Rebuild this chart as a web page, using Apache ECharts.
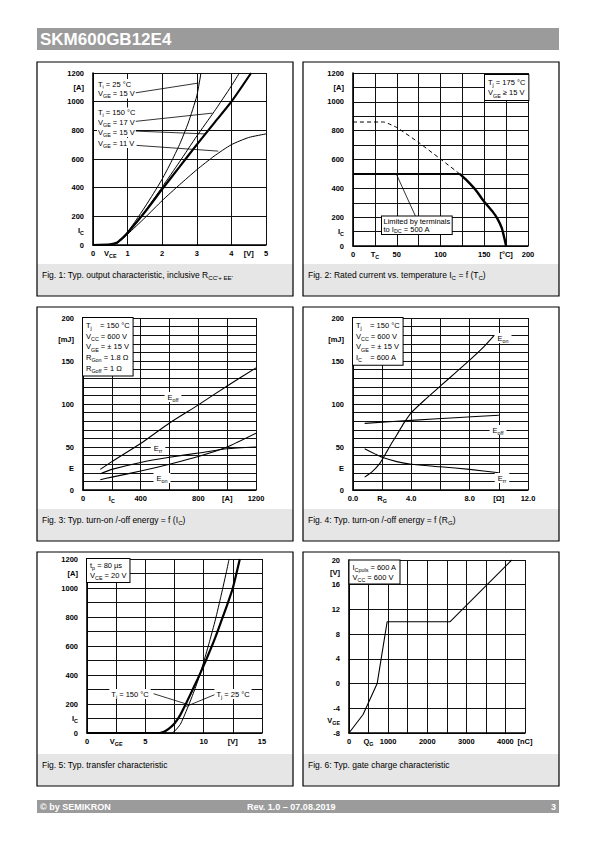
<!DOCTYPE html>
<html><head><meta charset="utf-8">
<script src="https://cdn.jsdelivr.net/npm/echarts@6/dist/echarts.min.js"></script>
<style>html,body{margin:0;padding:0;background:#fff}#c{width:595px;height:842px}</style>
</head><body><div id="c"></div>
<script>
// ---------------- DATA ----------------
// Fig 1: output characteristic, I_C [A] vs V_CE [V]
const fig1Tj25Vge15  = [[0,0],[0.5,2],[0.7,12],[0.85,45],[1,90],[1.25,175],[1.5,265],[1.75,360],[2,460],[2.25,575],[2.5,700],[2.75,850],[3,1040],[3.12,1200]];
const fig1Tj150Vge17 = [[0,0],[0.5,3],[0.7,15],[0.85,45],[1,85],[1.5,235],[2,405],[2.5,580],[3,760],[3.5,930],[4,1110],[4.23,1200]];
const fig1Tj150Vge15 = [[0,0],[0.5,5],[0.7,18],[0.85,48],[1,85],[1.5,230],[2,390],[2.5,545],[3,700],[3.5,850],[4,1000],[4.57,1200]];
const fig1Tj150Vge11 = [[0,0],[0.5,4],[0.7,16],[0.85,42],[1,75],[1.5,190],[2,310],[2.5,420],[3,525],[3.5,620],[4,700],[4.5,750],[5,775]];
const fig1Leaders = [
  [[1.21,1061],[3.05,1130]],
  [[1.21,862],[3.45,920]],
  [[1.21,795],[3.25,775]],
  [[1.26,695],[3.62,655]]
];
const fig1XLabels = [[0,'0'],[0.5,'V_{CE}'],[1,'1'],[2,'2'],[3,'3'],[4,'4'],[4.5,'[V]'],[5,'5']];
const fig1YLabels = [[0,'0'],[100,'I_{C}'],[200,'200'],[400,'400'],[600,'600'],[800,'800'],[1000,'1000'],[1100,'[A]'],[1200,'1200']];

// Fig 2: rated current vs case temperature
const fig2Dashed = [[0,860],[35,860],[40,850],[50,822],[75,718],[100,603],[122,500]];
const fig2Limit  = [[0,500],[122,500]];
const fig2Rated  = [[122,500],[130,455],[140,390],[150,307],[160,235],[165,190],[170,125],[175,0]];
const fig2Leader = [[49.6,498],[71.3,208]];
const fig2XLabels = [[0,'0'],[25,'T_{C}'],[50,'50'],[100,'100'],[150,'150'],[175,'[°C]'],[200,'200']];
const fig2YLabels = [[0,'0'],[100,'I_{C}'],[200,'200'],[400,'400'],[600,'600'],[800,'800'],[1000,'1000'],[1100,'[A]'],[1200,'1200']];

// Fig 3: switching energy vs I_C
const fig3Eoff = [[120,24],[200,33],[400,54],[600,78],[800,99],[1000,121],[1200,142]];
const fig3Err  = [[120,19],[200,24],[400,32],[600,38],[800,43],[1000,48],[1200,50]];
const fig3Eon  = [[120,12],[200,15],[400,22],[600,30],[800,39],[1000,50],[1200,66]];
const fig3XLabels = [[0,'0'],[200,'I_{C}'],[400,'400'],[800,'800'],[1000,'[A]'],[1200,'1200']];
const fig3YLabels = [[0,'0'],[25,'E'],[50,'50'],[100,'100'],[150,'150'],[175,'[mJ]'],[200,'200']];

// Fig 4: switching energy vs R_G
const fig4Eon  = [[0.8,15],[1.3,21],[1.8,30],[2.2,41],[2.6,53],[3,64],[3.5,78],[4,90],[5,106],[6,121],[7,136],[8,151],[9,167],[9.7,180]];
const fig4Eoff = [[0.8,77.5],[4,81],[7,84],[10,87]];
const fig4Err  = [[0.8,48],[1.5,42],[2,38],[3,33],[4,30],[6,27],[8,24],[10,20]];
const fig4XLabels = [[0,'0.0'],[2,'R_{G}'],[4,'4.0'],[8,'8.0'],[10,'[Ω]'],[12,'12.0']];
const fig4YLabels = [[0,'0'],[25,'E'],[50,'50'],[100,'100'],[150,'150'],[175,'[mJ]'],[200,'200']];

// Fig 5: transfer characteristic
const fig5Tj150 = [[0,0],[6.2,0],[6.6,8],[7,28],[7.5,65],[8,125],[8.5,205],[9,290],[9.5,375],[10,465],[10.5,560],[11,660],[11.5,770],[12,880],[12.5,1000],[13.1,1200]];
const fig5Tj25  = [[0,0],[7.2,0],[7.5,12],[8,60],[8.5,150],[9,250],[9.5,360],[10,490],[10.5,630],[11,780],[11.5,950],[12,1130],[12.18,1200]];
const fig5Leaders = [
  [[5.71,271],[8.71,195]],
  [[11.14,271],[8.49,183]]
];
const fig5XLabels = [[0,'0'],[2.5,'V_{GE}'],[5,'5'],[10,'10'],[12.5,'[V]'],[15,'15']];
const fig5YLabels = [[0,'0'],[100,'I_{C}'],[200,'200'],[400,'400'],[600,'600'],[800,'800'],[1000,'1000'],[1100,'[A]'],[1200,'1200']];

// Fig 6: gate charge
const fig6Vge = [[0,-8],[360,-5],[720,0],[975,10],[2580,10],[4160,20]];
const fig6XLabels = [[0,'0'],[500,'Q_{G}'],[1000,'1000'],[2000,'2000'],[3000,'3000'],[4000,'4000'],[4500,'[nC]']];
const fig6YLabels = [[-8,'-8'],[-6,'V_{GE}'],[-4,'-4'],[0,'0'],[4,'4'],[8,'8'],[12,'12'],[16,'16'],[18,'[V]'],[20,'20']];

// ---------------- HELPERS ----------------
const FONT = '"Liberation Sans", Arial, Helvetica, sans-serif';
function rich(str) {
  let out = '', last = 0, m;
  const re = /_\{([^}]*)\}/g;
  while ((m = re.exec(str))) {
    if (m.index > last) out += '{m|' + str.slice(last, m.index) + '}';
    out += '{s|' + m[1] + '}';
    last = re.lastIndex;
  }
  if (last < str.length) out += '{m|' + str.slice(last) + '}';
  return out;
}
function richStyles(fs, lh, weight, color) {
  color = color || '#000';
  return {
    m: {fontSize: fs, fontFamily: FONT, fontWeight: weight || 'normal', color: color, lineHeight: lh},
    s: {fontSize: fs * 0.72, fontFamily: FONT, fontWeight: weight || 'normal', color: color, lineHeight: fs * 0.75, verticalAlign: 'bottom'}
  };
}
function fmt(pairs) {
  return function (v) {
    for (const p of pairs) if (Math.abs(p[0] - v) < 1e-6 * Math.max(1, Math.abs(p[0]))) return rich(p[1]);
    return '';
  };
}

// ---------------- LAYOUT ----------------
const TICK_FS = 7.5;
const charts = [
  {grid:{left:93,top:73,width:173,height:172},
   x:{min:0,max:5,grid:1,lab:0.5,labels:fig1XLabels}, y:{min:0,max:1200,grid:200,lab:100,labels:fig1YLabels},
   lines:[{d:fig1Tj25Vge15,w:1},{d:fig1Tj150Vge17,w:1},{d:fig1Tj150Vge15,w:2.2},{d:fig1Tj150Vge11,w:1}],
   leaders:fig1Leaders},
  {grid:{left:353,top:73,width:175,height:173},
   x:{min:0,max:200,grid:25,lab:25,labels:fig2XLabels}, y:{min:0,max:1200,grid:100,lab:100,labels:fig2YLabels},
   lines:[{d:fig2Dashed,w:1,dash:[4,3]},{d:fig2Limit,w:1.6,nosmooth:true},{d:fig2Rated,w:2.4}],
   leaders:[fig2Leader]},
  {grid:{left:83,top:318,width:173,height:172},
   x:{min:0,max:1200,grid:200,lab:200,labels:fig3XLabels}, y:{min:0,max:200,grid:10,lab:25,labels:fig3YLabels},
   lines:[{d:fig3Eoff,w:1.1},{d:fig3Err,w:1.1},{d:fig3Eon,w:1.1}], leaders:[]},
  {grid:{left:353,top:318,width:175,height:172},
   x:{min:0,max:12,grid:2,lab:2,labels:fig4XLabels}, y:{min:0,max:200,grid:10,lab:25,labels:fig4YLabels},
   lines:[{d:fig4Eon,w:1.1},{d:fig4Eoff,w:1.1},{d:fig4Err,w:1.1}], leaders:[]},
  {grid:{left:87,top:559,width:175,height:174},
   x:{min:0,max:15,grid:2.5,lab:2.5,labels:fig5XLabels}, y:{min:0,max:1200,grid:100,lab:100,labels:fig5YLabels},
   lines:[{d:fig5Tj150,w:2.2},{d:fig5Tj25,w:1}], leaders:fig5Leaders},
  {grid:{left:349,top:560,width:176,height:173},
   x:{min:0,max:4500,grid:500,lab:500,labels:fig6XLabels}, y:{min:-8,max:20,grid:4,lab:2,labels:fig6YLabels},
   lines:[{d:fig6Vge,w:1.1,nosmooth:true}], leaders:[]}
];

const grids = [], xAxes = [], yAxes = [], series = [];
charts.forEach((c, i) => {
  grids.push(Object.assign({outerBoundsMode:'none', containLabel:false}, c.grid));
  const common = {type:'value', gridIndex:i, axisTick:{show:false}};
  xAxes.push(Object.assign({}, common, {min:c.x.min, max:c.x.max, interval:c.x.grid, position:'bottom',
    axisLine:{show:true, onZero:false, lineStyle:{color:'#000', width:1.6}},
    axisLabel:{show:false}, splitLine:{show:true, lineStyle:{color:'#111', width:1}}}));
  xAxes.push(Object.assign({}, common, {min:c.x.min, max:c.x.max, interval:c.x.lab, position:'bottom',
    axisLine:{show:false, onZero:false}, splitLine:{show:false},
    axisLabel:{show:true, margin:4, formatter:fmt(c.x.labels), rich:richStyles(TICK_FS, 9, 'bold'), showMinLabel:true, showMaxLabel:true, hideOverlap:false}}));
  yAxes.push(Object.assign({}, common, {min:c.y.min, max:c.y.max, interval:c.y.grid, position:'left',
    axisLine:{show:true, onZero:false, lineStyle:{color:'#000', width:1.6}},
    axisLabel:{show:false}, splitLine:{show:true, lineStyle:{color:'#111', width:1}}}));
  yAxes.push(Object.assign({}, common, {min:c.y.min, max:c.y.max, interval:c.y.lab, position:'left',
    axisLine:{show:false, onZero:false}, splitLine:{show:false},
    axisLabel:{show:true, margin:9, align:'right', formatter:fmt(c.y.labels), rich:richStyles(TICK_FS, 9, 'bold'), showMinLabel:true, showMaxLabel:true, hideOverlap:false}}));
  c.lines.forEach(l => series.push({type:'line', xAxisIndex:2*i, yAxisIndex:2*i, data:l.d, symbol:'none', showSymbol:false,
    smooth: l.nosmooth ? false : 0.2, silent:true, z:5,
    lineStyle:{color:'#000', width:l.w, type: l.dash || 'solid'}}));
  c.leaders.forEach(l => series.push({type:'line', xAxisIndex:2*i, yAxisIndex:2*i, data:l, symbol:'none', showSymbol:false,
    silent:true, z:4, lineStyle:{color:'#000', width:0.8}}));
});

// ---------------- PAGE GRAPHICS ----------------
const panels = [[37,62],[303,62],[37,307],[303,307],[37,552],[303,552]];
const PW = 256, PH = 234;
const captions = [
  'Fig. 1: Typ. output characteristic, inclusive R_{CC\'+ EE\'}',
  'Fig. 2: Rated current vs. temperature I_{C} = f (T_{C})',
  'Fig. 3: Typ. turn-on /-off energy = f (I_{C})',
  'Fig. 4: Typ. turn-on /-off energy = f (R_{G})',
  'Fig. 5: Typ. transfer characteristic',
  'Fig. 6: Typ. gate charge characteristic'
];
const ANN_FS = 7.5;
function txt(x, y, s, opt) {
  opt = opt || {};
  const lh = opt.lh || 10;
  return {type:'text', x:x, y:y, z:opt.z || 60, silent:true, style:{
    text: s.split('\n').map(rich).join('\n'),
    rich: richStyles(opt.fs || ANN_FS, lh, opt.weight || 'normal', opt.color),
    align: opt.align || 'left', verticalAlign: opt.va || 'middle',
    textAlign: opt.align || 'left', textVerticalAlign: opt.va || 'middle',
    backgroundColor: opt.bg === undefined ? '#fff' : opt.bg,
    borderColor: opt.border ? '#000' : undefined, borderWidth: opt.border ? 1 : 0,
    padding: opt.pad || [0, 1]
  }};
}
const g = [];
// header & footer
g.push({type:'rect', shape:{x:37,y:28,width:522,height:22}, style:{fill:'#9b9b9b'}, silent:true, z:1});
g.push({type:'text', x:40, y:39.5, silent:true, z:2, style:{text:'SKM600GB12E4', font:'bold 17px ' + FONT, fill:'#fff', align:'left', verticalAlign:'middle', textAlign:'left', textVerticalAlign:'middle'}});
g.push({type:'rect', shape:{x:37,y:800,width:522,height:13}, style:{fill:'#9b9b9b'}, silent:true, z:1});
g.push({type:'text', x:40, y:806.5, silent:true, z:2, style:{text:'© by SEMIKRON', font:'bold 9px ' + FONT, fill:'#fff', align:'left', verticalAlign:'middle', textAlign:'left', textVerticalAlign:'middle'}});
g.push({type:'text', x:247, y:806.5, silent:true, z:2, style:{text:'Rev. 1.0 – 07.08.2019', font:'bold 9px ' + FONT, fill:'#fff', align:'left', verticalAlign:'middle', textAlign:'left', textVerticalAlign:'middle'}});
g.push({type:'text', x:556, y:806.5, silent:true, z:2, style:{text:'3', font:'bold 9px ' + FONT, fill:'#fff', align:'right', verticalAlign:'middle', textAlign:'right', textVerticalAlign:'middle'}});
// panels
panels.forEach((p, i) => {
  g.push({type:'rect', shape:{x:p[0], y:p[1] + 202, width:PW, height:PH - 202}, style:{fill:'#e6e6e6'}, silent:true, z:1});
  g.push({type:'rect', shape:{x:p[0], y:p[1], width:PW, height:PH}, style:{fill:'none', stroke:'#000', lineWidth:1.2}, silent:true, z:3});
  g.push(txt(p[0] + 4, p[1] + 213, captions[i], {fs:8.5, lh:11, bg:'transparent', pad:0}));
});
// Fig 1 annotations
[[84,'T_{j} = 25 °C'],[93.5,'V_{GE} = 15 V'],[112.5,'T_{j} = 150 °C'],[122,'V_{GE} = 17 V'],[132,'V_{GE} = 15 V'],[143,'V_{GE} = 11 V']]
  .forEach(a => g.push(txt(97, a[0], a[1], {})));
// Fig 2 annotations
g.push(txt(485, 75, 'T_{j} = 175 °C\nV_{GE} ≥ 15 V', {va:'top', border:true, pad:[2,3], lh:10.5}));
g.push(txt(382, 216.5, 'Limited by terminals\nto I_{DC} = 500 A', {va:'top', border:true, pad:[0.5,1.5], lh:8.3}));
// Fig 3 annotations
g.push(txt(83, 318, 'T_{j}    = 150 °C\nV_{CC} = 600 V\nV_{GE} = ± 15 V\nR_{Gon} = 1.8 Ω\nR_{Goff} = 1 Ω', {va:'top', border:true, pad:[2,3], lh:10.7}));
g.push(txt(173, 397, 'E_{off}', {align:'center', pad:[0,3]}));
g.push(txt(158, 448, 'E_{rr}', {align:'center', pad:[0,3]}));
g.push(txt(162, 478, 'E_{on}', {align:'center', pad:[0,3]}));
// Fig 4 annotations
g.push(txt(353, 318, 'T_{j}    = 150 °C\nV_{CC} = 600 V\nV_{GE} = ± 15 V\nI_{C}    = 600 A', {va:'top', border:true, pad:[2,3], lh:10.7}));
g.push(txt(503, 338, 'E_{on}', {align:'center', pad:[0,3]}));
g.push(txt(498, 430, 'E_{off}', {align:'center', pad:[0,3]}));
g.push(txt(502, 478, 'E_{rr}', {align:'center', pad:[0,3]}));
// Fig 5 annotations
g.push(txt(87, 559, 't_{p} = 80 µs\nV_{CE} = 20 V', {va:'top', border:true, pad:[1.5,3], lh:10}));
g.push(txt(130, 694, 'T_{j} = 150 °C', {align:'center', pad:[0,2]}));
g.push(txt(233, 694, 'T_{j} = 25 °C', {align:'center', pad:[0,2]}));
// Fig 6 annotations
g.push(txt(349.5, 560.5, 'I_{Cpuls} = 600 A\nV_{CC} = 600 V', {va:'top', border:true, pad:[1.5,3], lh:10}));

const chart = echarts.init(document.getElementById('c'), null, {renderer:'svg', width:595, height:842});
chart.setOption({
  animation:false,
  backgroundColor:'#fff',
  grid:grids, xAxis:xAxes, yAxis:yAxes, series:series,
  graphic:{elements:g}
});
</script></body></html>
